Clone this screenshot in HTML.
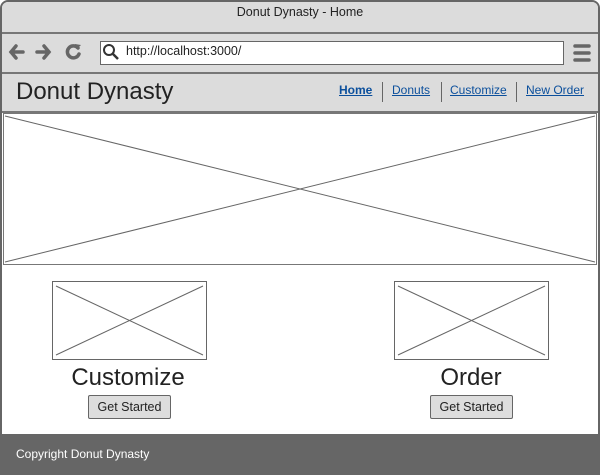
<!DOCTYPE html>
<html><head><style>
body{margin:0;width:600px;height:475px;overflow:hidden;font-family:"Liberation Sans",Arial,sans-serif;background:#fff;position:relative}
.a{position:absolute}
a{color:#0b4f9c;text-decoration:underline}
.btn{position:absolute;height:22px;border:1px solid #666;border-radius:2px;background:#ddd;font-size:12.5px;line-height:22px;text-align:center;color:#222}
</style></head><body>
<div class="a" style="left:0;top:0;width:596px;height:471px;border:2px solid #666;border-radius:8px 8px 0 0;background:#fff"></div>
<div class="a" style="left:2px;top:2px;width:596px;height:110px;background:#dcdcdc;border-radius:6px 6px 0 0"></div>
<div class="a" style="left:0;top:5px;width:600px;text-align:center;font-size:12.5px;color:#222">Donut Dynasty - Home</div>
<div class="a" style="left:2px;top:32px;width:596px;height:2px;background:#777"></div>
<div class="a" style="left:2px;top:72px;width:596px;height:2px;background:#777"></div>
<div class="a" style="left:2px;top:111px;width:596px;height:2px;background:#777"></div>
<div class="a" style="left:100px;top:41px;width:462px;height:22px;border:1px solid #666;background:#fff"></div>
<div class="a" style="left:126px;top:44px;font-size:12.5px;color:#222">http://localhost:3000/</div>
<svg class="a" style="left:0;top:0" width="600" height="475">
<g stroke="#666" stroke-width="3.5" fill="none" stroke-linecap="round">
<path d="M11 52h12M16 46l-5 6 5 6"/>
<path d="M37 52h12M44 46l5 6-5 6"/>
<path d="M78 48a6 6 0 1 0 1 6"/>
<path d="M575 46h14M575 53h14M575 60h14"/>
</g>
<path d="M75 44l6 1-4 4z" fill="#666"/>
<circle cx="109" cy="50" r="5" stroke="#333" stroke-width="2" fill="none"/>
<path d="M113 54l5 5" stroke="#333" stroke-width="2.5"/>
<rect x="3.5" y="113.5" width="593" height="151" fill="#fff" stroke="#777"/>
<path d="M5 116L595 262M5 262L595 116" stroke="#666" fill="none"/>
<rect x="52.5" y="281.5" width="154" height="78" fill="#fff" stroke="#666"/>
<path d="M56 286L203 355M56 355L203 286" stroke="#666"/>
<rect x="394.5" y="281.5" width="154" height="78" fill="#fff" stroke="#666"/>
<path d="M398 286L545 355M398 355L545 286" stroke="#666"/>
<path d="M382.5 82v20M441.5 82v20M516.5 82v20" stroke="#666"/>
</svg>
<div class="a" style="left:16px;top:78px;font-size:24px;color:#222">Donut Dynasty</div>
<div class="a" style="left:339px;top:83px;font-size:12px"><a style="font-weight:bold">Home</a></div>
<div class="a" style="left:392px;top:83px;font-size:12px"><a>Donuts</a></div>
<div class="a" style="left:450px;top:83px;font-size:12px"><a>Customize</a></div>
<div class="a" style="left:526px;top:83px;font-size:12px"><a>New Order</a></div>
<div class="a" style="left:28px;top:364px;width:200px;text-align:center;font-size:24px;color:#222">Customize</div>
<div class="a" style="left:371px;top:364px;width:200px;text-align:center;font-size:24px;color:#222">Order</div>
<div class="btn" style="left:88px;top:395px;width:81px">Get Started</div>
<div class="btn" style="left:430px;top:395px;width:81px">Get Started</div>
<div class="a" style="left:0;top:434px;width:600px;height:41px;background:#666"></div>
<div class="a" style="left:16px;top:447px;font-size:12px;color:#fff">Copyright Donut Dynasty</div>
</body></html>
